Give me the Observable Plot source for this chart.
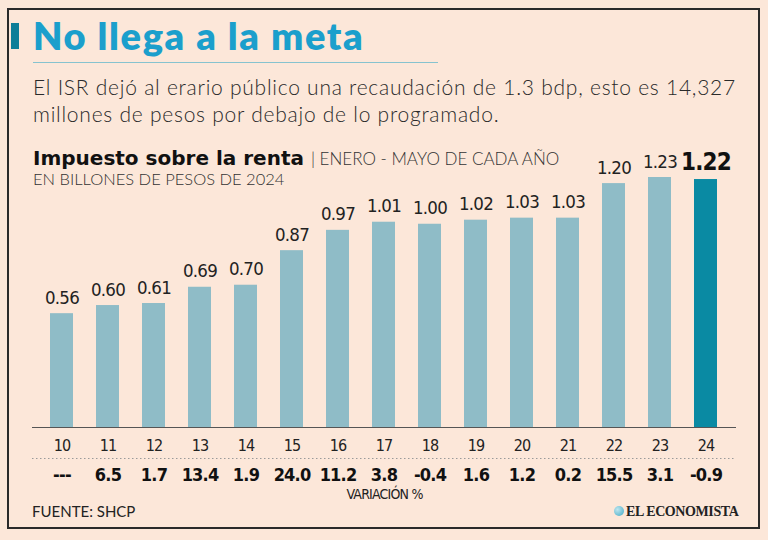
<!DOCTYPE html>
<html>
<head>
<meta charset="utf-8">
<script src="https://cdn.jsdelivr.net/npm/d3@7"></script>
<script src="https://cdn.jsdelivr.net/npm/@observablehq/plot@0.6"></script>
<style>
  html, body { margin: 0; padding: 0; background: #fce7d9; }
  #page { position: relative; width: 768px; height: 540px; background: #fce7d9; overflow: hidden; font-family: Lato, "Open Sans", sans-serif; color: #222; }
  .abs { position: absolute; white-space: nowrap; }
  #frame { left: 7px; top: 8px; width: 749px; height: 517px; border: 2.5px solid #2a2a2a; }
  #accent { left: 11px; top: 23px; width: 8px; height: 26px; background: #0e7e98; }
  #title { left: 33px; top: 16px; font-size: 38px; line-height: 38px; font-weight: 800; color: #1b9fcc; letter-spacing: 1.6px; }
  #sep { left: 33px; top: 62px; width: 405px; height: 1px; background: #86c3cf; }
  #sub { left: 33px; top: 73px; font-size: 21px; line-height: 27px; font-weight: 300; color: #2a2a2a; letter-spacing: 0.75px; }
  #ctitle { left: 33px; top: 146px; font-family: "DejaVu Sans", sans-serif; font-size: 20px; line-height: 24px; font-weight: 700; color: #111; }
  #ctitle span { font-family: Lato, sans-serif; font-weight: 300; font-size: 17px; color: #333; }
  #units { left: 33px; top: 169px; font-size: 16.5px; line-height: 20px; font-weight: 300; color: #333; }
  #source { left: 32px; top: 502px; font-size: 15px; line-height: 18px; font-weight: 400; color: #222; }
  #logo { left: 626px; top: 503px; font-family: "Liberation Serif", "DejaVu Serif", serif; font-weight: 700; font-size: 14px; line-height: 18px; color: #222; letter-spacing: -0.4px; }
  #globe { left: 614px; top: 506px; width: 10px; height: 10px; border-radius: 50%; background: radial-gradient(circle at 35% 35%, #bfe6ef, #3fa9c6); }
  #chart { position: absolute; left: 0; top: 140px; }
</style>
</head>
<body>
<div id="page">
  <div id="frame" class="abs"></div>
  <div id="accent" class="abs"></div>
  <div id="title" class="abs">No llega a la meta</div>
  <div id="sep" class="abs"></div>
  <div id="sub" class="abs">El ISR dejó al erario público una recaudación de 1.3 bdp, esto es 14,327<br>millones de pesos por debajo de lo programado.</div>
  <div id="ctitle" class="abs">Impuesto sobre la renta <span>| ENERO - MAYO DE CADA AÑO</span></div>
  <div id="units" class="abs">EN BILLONES DE PESOS DE 2024</div>
  <div id="chart"></div>
  <div id="source" class="abs">FUENTE: SHCP</div>
  <div id="globe" class="abs"></div>
  <div id="logo" class="abs">EL ECONOMISTA</div>
</div>
<script>
const years = ["10","11","12","13","14","15","16","17","18","19","20","21","22","23","24"];
const values = [0.56,0.60,0.61,0.69,0.70,0.87,0.97,1.01,1.00,1.02,1.03,1.03,1.20,1.23,1.22];
const variation = [null,6.5,1.7,13.4,1.9,24.0,11.2,3.8,-0.4,1.6,1.2,0.2,15.5,3.1,-0.9];
const highlightYear = "24";

const data = years.map((y, i) => ({
  year: y,
  value: values[i],
  variation: variation[i],
  highlight: y === highlightYear
}));

const lightBar = "#8fbcc7";
const darkBar = "#0a8aa3";

const chart = Plot.plot({
  width: 768,
  height: 380,
  marginLeft: 32,
  marginRight: 32,
  marginTop: 37,
  marginBottom: 93,
  style: { background: "transparent", fontFamily: '"DejaVu Sans", sans-serif', fontStretch: "condensed", letterSpacing: "-0.8px", color: "#222", overflow: "visible" },
  x: { type: "band", domain: years, paddingInner: 0.49, paddingOuter: 0.245, axis: null },
  y: { domain: [0, 1.23], axis: null },
  marks: [
    Plot.barY(data, { x: "year", y: "value", fill: d => d.highlight ? darkBar : lightBar }),
    Plot.ruleY([0], { stroke: "#555", strokeWidth: 1.2 }),
    Plot.text(data.filter(d => !d.highlight), {
      x: "year", y: "value", text: d => d.value.toFixed(2),
      dy: -10, lineAnchor: "bottom", fontSize: 18.5, fill: "#222"
    }),
    Plot.text(data.filter(d => d.highlight), {
      x: "year", y: "value", text: d => d.value.toFixed(2),
      dy: -10, lineAnchor: "bottom", fontSize: 24, fontWeight: "bold", fill: "#111"
    }),
    Plot.axisX({ tickSize: 0, tickPadding: 12, fontSize: 16, label: null, fill: "#222" }),
    Plot.ruleY([0], { dy: 31, stroke: "#9a9a9a", strokeDasharray: "1.5,2.5", strokeWidth: 1 }),
    Plot.text(data, {
      x: "year", text: d => d.variation == null ? "---" : d.variation.toFixed(1),
      frameAnchor: "bottom", dy: 47.5, lineAnchor: "middle",
      fontSize: 18, fontWeight: "bold", fill: "#111"
    }),
    Plot.text(["VARIACIÓN %"], {
      text: d => d, frameAnchor: "bottom", dy: 67, lineAnchor: "middle",
      fontSize: 14, fill: "#222"
    })
  ]
});
document.getElementById("chart").appendChild(chart);
</script>
</body>
</html>
